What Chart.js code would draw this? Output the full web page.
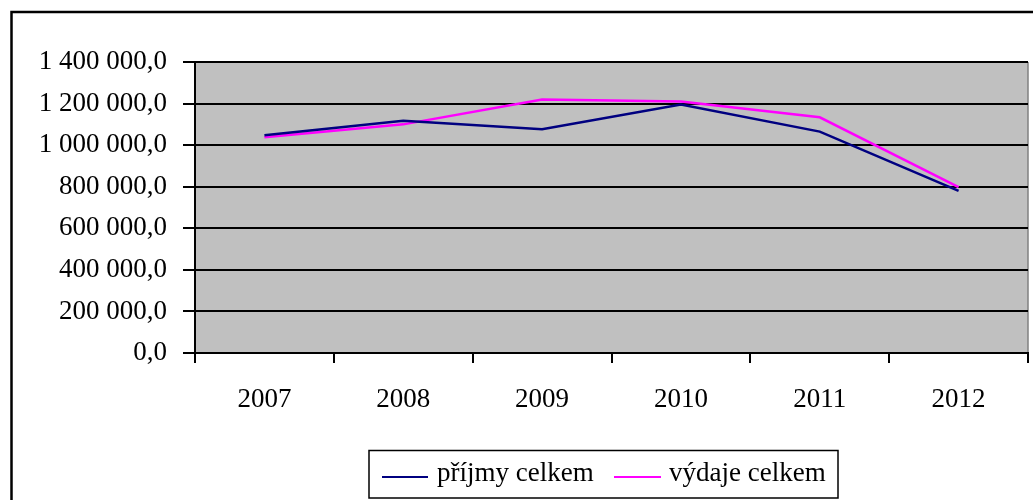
<!DOCTYPE html>
<html>
<head>
<meta charset="utf-8">
<script src="https://cdn.jsdelivr.net/npm/chart.js@4/dist/chart.umd.min.js"></script>
<style>
html,body{margin:0;padding:0;background:#fff;}
#wrap{width:1033px;height:500px;position:relative;}
</style>
</head>
<body>
<div id="wrap"><canvas id="c" width="1033" height="500"></canvas></div>
<script>
const categories = ['2007', '2008', '2009', '2010', '2011', '2012'];
const prijmy = [1048000, 1117000, 1076000, 1195000, 1065000, 780000];
const vydaje = [1038000, 1100000, 1220000, 1210000, 1134000, 798000];
const seriesNames = ['příjmy celkem', 'výdaje celkem'];
const seriesColors = ['#000080', '#ff00ff'];
const yMin = 0, yMax = 1400000, yStep = 200000;

const FONT = 'Liberation Serif, Times New Roman, serif';
const FS = 27;

function fmt(v) {
  const s = Math.round(v).toString().replace(/\B(?=(\d{3})+(?!\d))/g, ' ');
  return s + ',0';
}

const bgPlugin = {
  id: 'bg',
  beforeDraw(chart) {
    const {ctx, chartArea: a} = chart;
    ctx.save();
    ctx.fillStyle = '#fff';
    ctx.fillRect(0, 0, chart.width, chart.height);
    ctx.fillStyle = '#c0c0c0';
    ctx.fillRect(a.left, a.top, a.right - a.left, a.bottom - a.top);
    ctx.strokeStyle = '#808080';
    ctx.lineWidth = 1.5;
    ctx.beginPath();
    ctx.moveTo(a.right, a.top);
    ctx.lineTo(a.right, a.bottom);
    ctx.stroke();
    // outer frame
    ctx.strokeStyle = '#000';
    ctx.lineWidth = 2.5;
    ctx.strokeRect(11.5, 12, 1040, 520);
    ctx.restore();
  },
  afterDraw(chart) {
    const ctx = chart.ctx;
    ctx.save();
    // legend box
    ctx.fillStyle = '#fff';
    ctx.strokeStyle = '#000';
    ctx.lineWidth = 1.5;
    ctx.fillRect(369, 450.5, 469, 47.5);
    ctx.strokeRect(369, 450.5, 469, 47.5);
    ctx.font = FS + 'px ' + FONT;
    ctx.textBaseline = 'middle';
    const items = [
      {x1: 382, x2: 428, tx: 437},
      {x1: 614, x2: 661, tx: 669}
    ];
    items.forEach((it, i) => {
      ctx.strokeStyle = seriesColors[i];
      ctx.lineWidth = 2;
      ctx.beginPath();
      ctx.moveTo(it.x1, 477);
      ctx.lineTo(it.x2, 477);
      ctx.stroke();
      ctx.fillStyle = '#000';
      ctx.fillText(seriesNames[i], it.tx, 474);
    });
    ctx.restore();
  }
};

new Chart(document.getElementById('c'), {
  type: 'line',
  data: {
    labels: categories,
    datasets: [
      {label: seriesNames[0], data: prijmy, borderColor: seriesColors[0], backgroundColor: seriesColors[0], borderWidth: 2.5, pointRadius: 0, tension: 0, fill: false},
      {label: seriesNames[1], data: vydaje, borderColor: seriesColors[1], backgroundColor: seriesColors[1], borderWidth: 2.5, pointRadius: 0, tension: 0, fill: false}
    ]
  },
  options: {
    responsive: false,
    animation: false,
    devicePixelRatio: 1,
    layout: {padding: {left: 0, top: 62, right: 5, bottom: 0}},
    plugins: {legend: {display: false}, tooltip: {enabled: false}, title: {display: false}},
    scales: {
      x: {
        offset: true,
        grid: {offset: true, drawOnChartArea: false, drawTicks: true, tickLength: 10, color: '#000', lineWidth: 2},
        border: {display: true, color: '#000', width: 2},
        ticks: {font: {family: FONT, size: FS}, color: '#000', padding: 21, maxRotation: 0, autoSkip: false},
        afterFit(s) { s.height = 147; }
      },
      y: {
        min: yMin, max: yMax,
        grid: {color: '#000', lineWidth: 2, tickLength: 12, drawTicks: true},
        border: {display: true, color: '#000', width: 2},
        ticks: {stepSize: yStep, font: {family: FONT, size: FS}, color: '#000', padding: 16, callback: v => fmt(v)},
        afterFit(s) { s.width = 195; }
      }
    }
  },
  plugins: [bgPlugin]
});
</script>
</body>
</html>
